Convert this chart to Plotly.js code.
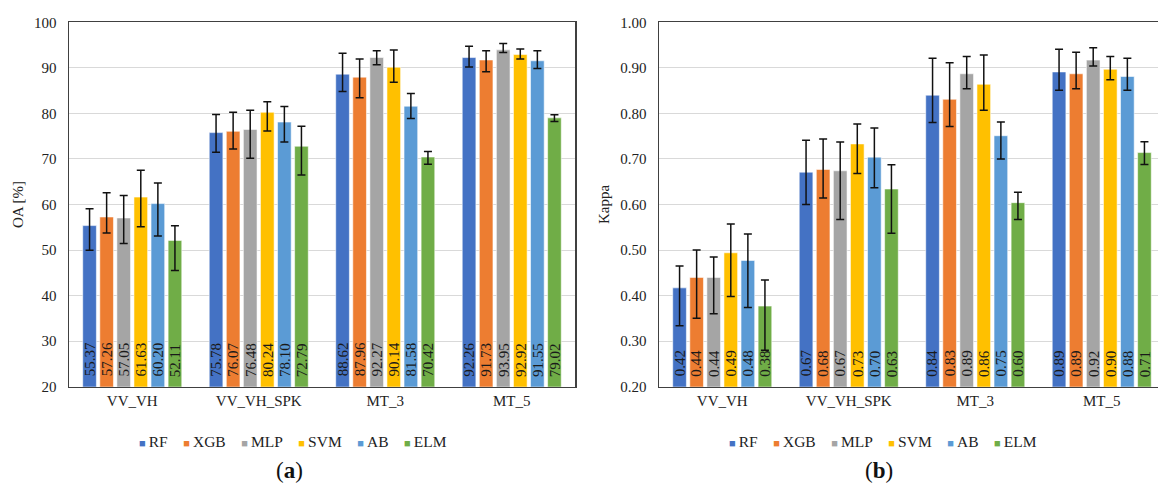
<!DOCTYPE html>
<html>
<head>
<meta charset="utf-8">
<script src="https://cdn.plot.ly/plotly-3.0.1.min.js"></script>
<style>
html, body { margin:0; padding:0; overflow:hidden; background:#fff; }
#chart { width:1172px; height:484px; }
</style>
</head>
<body>
<div id="chart"></div>
<script>
const categories = ['VV_VH', 'VV_VH_SPK', 'MT_3', 'MT_5'];
const seriesNames = ['RF', 'XGB', 'MLP', 'SVM', 'AB', 'ELM'];
const colors = ['#4472C4', '#ED7D31', '#A5A5A5', '#FFC000', '#5B9BD5', '#70AD47'];

// Panel (a): OA [%]
const oaRF  = [55.37, 75.78, 88.62, 92.26];
const oaXGB = [57.26, 76.07, 87.96, 91.73];
const oaMLP = [57.05, 76.48, 92.27, 93.95];
const oaSVM = [61.63, 80.24, 90.14, 92.92];
const oaAB  = [60.20, 78.10, 81.58, 91.55];
const oaELM = [52.11, 72.79, 70.42, 79.02];
const oaPlusRF  = [3.7, 4.0, 4.6, 2.5], oaMinusRF  = [5.4, 4.3, 3.8, 2.1];
const oaPlusXGB = [5.3, 4.2, 4.0, 2.0], oaMinusXGB = [3.5, 3.9, 4.5, 2.6];
const oaPlusMLP = [4.9, 4.2, 1.5, 1.4], oaMinusMLP = [5.6, 6.3, 1.6, 0.6];
const oaPlusSVM = [5.9, 2.3, 3.8, 1.2], oaMinusSVM = [6.5, 4.1, 3.3, 1.0];
const oaPlusAB  = [4.5, 3.4, 2.8, 2.2], oaMinusAB  = [7.1, 4.4, 2.7, 1.7];
const oaPlusELM = [3.2, 4.4, 1.2, 0.7], oaMinusELM = [6.6, 6.3, 1.6, 0.8];

// Panel (b): Kappa
const kRF  = [0.417, 0.671, 0.840, 0.891];
const kXGB = [0.440, 0.677, 0.831, 0.887];
const kMLP = [0.440, 0.674, 0.887, 0.917];
const kSVM = [0.494, 0.733, 0.864, 0.897];
const kAB  = [0.477, 0.704, 0.751, 0.881];
const kELM = [0.377, 0.634, 0.604, 0.714];
const kPlusRF  = [0.048, 0.070, 0.081, 0.050], kMinusRF  = [0.083, 0.071, 0.060, 0.040];
const kPlusXGB = [0.060, 0.067, 0.080, 0.047], kMinusXGB = [0.090, 0.063, 0.060, 0.033];
const kPlusMLP = [0.045, 0.063, 0.038, 0.027], kMinusMLP = [0.080, 0.107, 0.033, 0.013];
const kPlusSVM = [0.063, 0.044, 0.064, 0.028], kMinusSVM = [0.096, 0.065, 0.057, 0.023];
const kPlusAB  = [0.058, 0.064, 0.030, 0.040], kMinusAB  = [0.103, 0.067, 0.051, 0.030];
const kPlusELM = [0.057, 0.053, 0.023, 0.024], kMinusELM = [0.097, 0.097, 0.037, 0.026];

const oaVals = [oaRF, oaXGB, oaMLP, oaSVM, oaAB, oaELM];
const oaPlus = [oaPlusRF, oaPlusXGB, oaPlusMLP, oaPlusSVM, oaPlusAB, oaPlusELM];
const oaMinus = [oaMinusRF, oaMinusXGB, oaMinusMLP, oaMinusSVM, oaMinusAB, oaMinusELM];
const kVals = [kRF, kXGB, kMLP, kSVM, kAB, kELM];
const kPlus = [kPlusRF, kPlusXGB, kPlusMLP, kPlusSVM, kPlusAB, kPlusELM];
const kMinus = [kMinusRF, kMinusXGB, kMinusMLP, kMinusSVM, kMinusAB, kMinusELM];

const FONT = 'Liberation Serif, Times New Roman, serif';
const W = 1172, H = 484;
const BARGAP = 0.19, BARGROUPGAP = 0.2;
const dA = [69 / W, 575 / W], dB = [659 / W, 1165 / W];
const oaRange = [20, 100], kRange = [0.2, 1.0];

function mkTrace(i, vals, plus, minus, xa, ya) {
  return {
    type: 'bar', name: seriesNames[i], x: categories, y: vals[i],
    xaxis: xa, yaxis: ya, showlegend: false,
    marker: { color: colors[i], line: { color: 'rgba(255,255,255,0.7)', width: 0.8 } },
    error_y: { type: 'data', symmetric: false, array: plus[i], arrayminus: minus[i],
               color: '#111', thickness: 1.5, width: 4 },
    hoverinfo: 'skip'
  };
}

const traces = [];
for (let i = 0; i < 6; i++) traces.push(mkTrace(i, oaVals, oaPlus, oaMinus, 'x', 'y'));
for (let i = 0; i < 6; i++) traces.push(mkTrace(i, kVals, kPlus, kMinus, 'x2', 'y2'));

// value labels at the base of each bar, offset by the bar's slot within its group
const annotations = [];
function addLabels(vals, xref, yref, yMin, dom, fmt) {
  const bandPx = (dom[1] - dom[0]) * W / categories.length;
  const slotPx = bandPx * (1 - BARGAP) / seriesNames.length;
  for (let i = 0; i < seriesNames.length; i++) {
    for (let j = 0; j < categories.length; j++) {
      annotations.push({
        xref: xref, yref: yref, x: categories[j], y: yMin,
        text: vals[i][j].toFixed(fmt), textangle: -90, showarrow: false,
        xanchor: 'center', yanchor: 'bottom',
        xshift: (i - (seriesNames.length - 1) / 2) * slotPx, yshift: 9,
        borderpad: 0,
        font: { family: FONT, size: 15, color: '#1a1a1a' }
      });
    }
  }
}
addLabels(oaVals, 'x', 'y', oaRange[0], dA, 2);
addLabels(kVals, 'x2', 'y2', kRange[0], dB, 2);

// legends (one under each panel)
function legendText() {
  return seriesNames.map((n, i) =>
    '<span style="color:' + colors[i] + ';font-size:11px">\u25A0</span>\u2009' + n).join('&nbsp;&nbsp;&nbsp;&nbsp;');
}
annotations.push({ xref: 'paper', yref: 'paper', x: 293 / W, y: 1 - 441 / H, text: legendText(),
  showarrow: false, xanchor: 'center', yanchor: 'middle', font: { family: FONT, size: 15.5, color: '#222' } });
annotations.push({ xref: 'paper', yref: 'paper', x: 883 / W, y: 1 - 441 / H, text: legendText(),
  showarrow: false, xanchor: 'center', yanchor: 'middle', font: { family: FONT, size: 15.5, color: '#222' } });

// panel labels
annotations.push({ text: '(<b>a</b>)', xref: 'paper', yref: 'paper', x: 289 / W, y: 1 - 470 / H,
  showarrow: false, xanchor: 'center', yanchor: 'middle', font: { family: FONT, size: 23, color: '#111' } });
annotations.push({ text: '(<b>b</b>)', xref: 'paper', yref: 'paper', x: 879 / W, y: 1 - 470 / H,
  showarrow: false, xanchor: 'center', yanchor: 'middle', font: { family: FONT, size: 23, color: '#111' } });

const yDom = [1 - 386.7 / H, 1 - 22.3 / H];
const axFont = { family: FONT, size: 15, color: '#222' };

function xAxis(d, anchor) {
  return { domain: d, anchor: anchor, showline: true, mirror: true, linecolor: '#404040', linewidth: 1.5,
           ticks: '', tickfont: axFont, showgrid: false, fixedrange: true };
}
function yAxis(d, anchor, range, dtick, fmt, title) {
  return { domain: d, anchor: anchor, range: range, dtick: dtick, tickformat: fmt,
           showline: true, mirror: true, linecolor: '#404040', linewidth: 1.5,
           gridcolor: '#d9d9d9', gridwidth: 1, ticks: '', ticklabelstandoff: 8,
           tickfont: axFont, zeroline: false, fixedrange: true,
           title: { text: title, font: { family: FONT, size: 15, color: '#222' }, standoff: 7 } };
}

const layout = {
  width: W, height: H,
  margin: { l: 0, r: 0, t: 0, b: 0 },
  paper_bgcolor: '#fff', plot_bgcolor: '#fff',
  barmode: 'group', bargap: BARGAP, bargroupgap: BARGROUPGAP,
  showlegend: false,
  xaxis: xAxis(dA, 'y'),
  yaxis: yAxis(yDom, 'x', oaRange, 10, 'd', 'OA [%]'),
  xaxis2: xAxis(dB, 'y2'),
  yaxis2: yAxis(yDom, 'x2', kRange, 0.1, '.2f', 'Kappa'),
  annotations: annotations
};

Plotly.newPlot('chart', traces, layout, { staticPlot: true, displayModeBar: false });
</script>
</body>
</html>
